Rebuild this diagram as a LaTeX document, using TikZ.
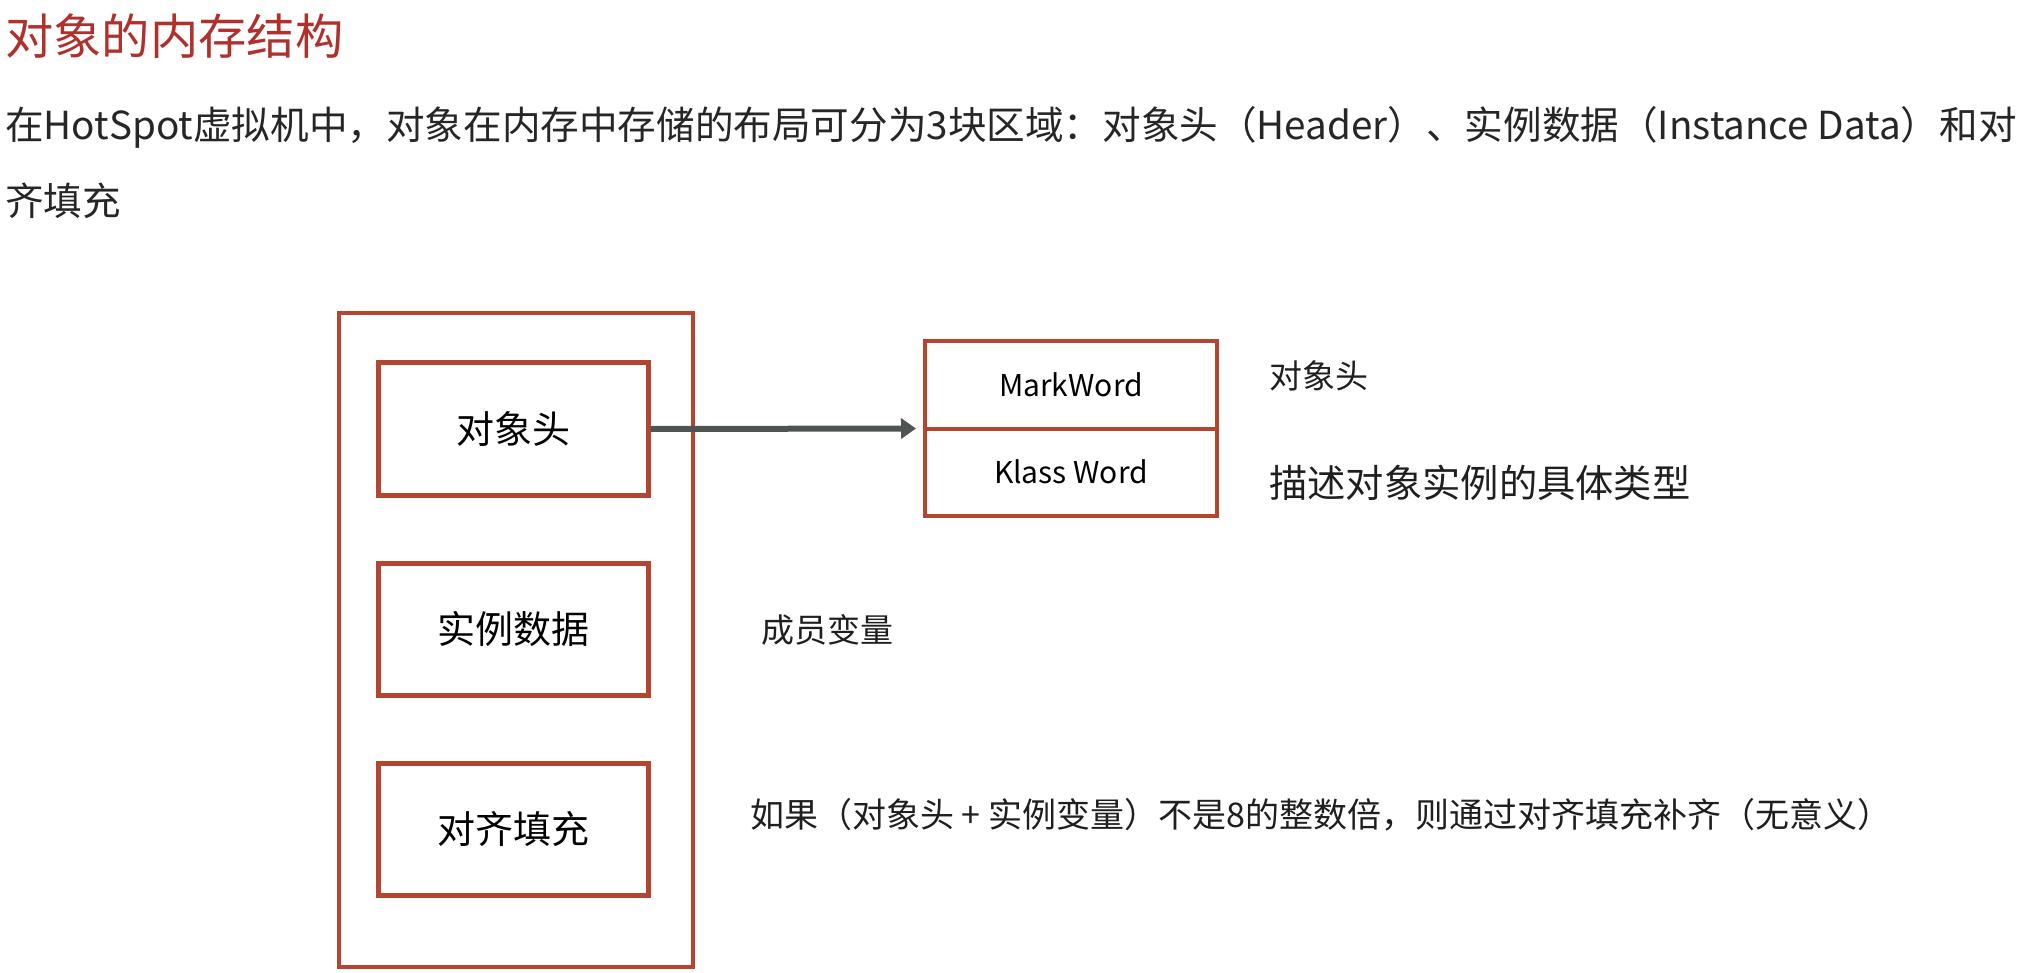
\documentclass[tikz,border=0pt]{standalone}
\usepackage{fontspec}
\setmainfont{Noto Sans CJK SC}
\usetikzlibrary{arrows.meta,positioning}
\definecolor{boxred}{HTML}{B4462F}
\definecolor{titlered}{HTML}{B0302C}
\definecolor{arrgray}{HTML}{505454}
\newcommand{\fsz}[1]{\fontsize{#1}{#1}\selectfont}

\begin{document}
\begin{tikzpicture}[
  x=1pt, y=-1pt,
  outerbox/.style={draw=boxred, line width=4pt, minimum width=354pt, minimum height=653pt},
  part/.style={draw=boxred, line width=5pt, minimum width=270pt, minimum height=132pt, font=\fsz{38}},
  word/.style={draw=boxred, line width=4pt, outer sep=0pt, minimum width=292pt, minimum height=87pt, font=\fsz{30}},
  note/.style={anchor=west, inner sep=0pt, font=\fsz{34}, text=black!88},
  arr/.style={-{Triangle[length=15pt,width=20pt]}, line width=6pt, draw=arrgray, shorten >=9pt},
  node distance=63pt
]
\useasboundingbox (0,0) rectangle (2034,973);
% heading and intro text
\node[anchor=west, inner sep=0pt, text=titlered, font=\fsz{48.3}] (title) at (5,36) {对象的内存结构};
\node[note, font=\fsz{38.6}, text=black!85] (intro1) at (5,127) {在HotSpot虚拟机中，对象在内存中存储的布局可分为3块区域：对象头（Header）、实例数据（Instance Data）和对};
\node[note, font=\fsz{38.6}, text=black!85] (intro2) at (5,201) {齐填充};
% object layout
\node[outerbox] (obj) at (516,640) {};
\node[part] (hdr) at (513,429) {对象头};
\node[part, below=of hdr] (data) {实例数据};
\node[part, below=of data] (pad) {对齐填充};
% header words
\node[word] (mark) at (1071,385) {MarkWord};
\node[word, anchor=north] (klass) at (mark.south) {Klass Word};
\draw[arr] (hdr.east) -- (mark.south west);
% notes
\node[note, font=\fsz{33}] (hdrnote) at (1269,376) {对象头};
\node[note, font=\fsz{38.3}] (klassnote) at (1269,483) {描述对象实例的具体类型};
\node[note, font=\fsz{33}] (datanote) at (761,630) {成员变量};
\node[note] (padnote) at (750,815) {如果（对象头 + 实例变量）不是8的整数倍，则通过对齐填充补齐（无意义）};
\end{tikzpicture}
\end{document}
